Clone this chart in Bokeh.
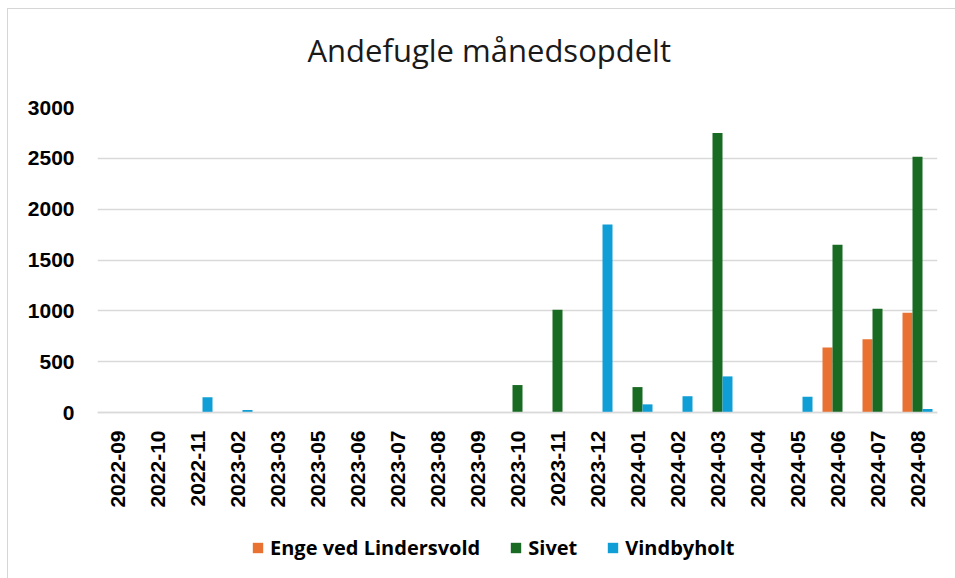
import math
from bokeh.plotting import figure
from bokeh.models import (FactorRange, Range1d, Legend, LegendItem, ColumnDataSource,
                          FixedTicker, Title)
from bokeh.transform import dodge
from bokeh.embed import file_html
from bokeh.resources import INLINE

months = ["2022-09", "2022-10", "2022-11", "2023-02", "2023-03", "2023-05", "2023-06",
          "2023-07", "2023-08", "2023-09", "2023-10", "2023-11", "2023-12", "2024-01",
          "2024-02", "2024-03", "2024-04", "2024-05", "2024-06", "2024-07", "2024-08"]
enge = [0, 0, 0, 0, 0, 0, 0, 0, 0, 0, 0, 0, 0, 0, 0, 0, 0, 0, 640, 720, 980]
sivet = [0, 0, 0, 0, 0, 5, 0, 0, 0, 0, 270, 1010, 0, 250, 0, 2750, 0, 0, 1650, 1020, 2515]
vind = [0, 0, 150, 25, 0, 0, 0, 0, 0, 0, 0, 5, 1850, 80, 160, 355, 0, 155, 5, 3, 35]
series_names = ["Enge ved Lindersvold", "Sivet", "Vindbyholt"]
y_ticks = [0, 500, 1000, 1500, 2000, 2500, 3000]

colors = ["#E97132", "#196B24", "#0F9ED5"]

src = ColumnDataSource(dict(month=months, enge=enge, sivet=sivet, vind=vind))

# frame extends below zero so that tick labels and legend sit inside it
plot_px = 305      # pixels for 0..3000
below_px = 163     # pixels below the zero line
y_start = -3000 * below_px / plot_px

p = figure(x_range=FactorRange(factors=months), y_range=Range1d(y_start, 3000),
           frame_width=840, frame_height=plot_px + below_px,
           output_backend="svg", toolbar_location=None,
           min_border_left=89, min_border_right=29, min_border_top=98, min_border_bottom=15)

p.styles = {"border": "1px solid #d6d6d6", "margin-left": "7px", "margin-top": "8px"}

bw = 0.25
r1 = p.vbar(x=dodge("month", -0.25, range=p.x_range), top="enge", width=bw, source=src,
            fill_color=colors[0], line_color=None)
r2 = p.vbar(x=dodge("month", 0.0, range=p.x_range), top="sivet", width=bw, source=src,
            fill_color=colors[1], line_color=None)
r3 = p.vbar(x=dodge("month", 0.25, range=p.x_range), top="vind", width=bw, source=src,
            fill_color=colors[2], line_color=None)

# spacer panel between frame and title
p.add_layout(Title(text=" ", text_font_size="2px", standoff=28), "above")

p.title.text = "Andefugle månedsopdelt"
p.title.align = "left"
p.title.text_font = "Open Sans"
p.title.text_font_style = "normal"
p.title.text_font_size = "31px"
p.title.text_color = "#1a1a1a"
p.title.standoff = 10
p.title.offset = 210

p.outline_line_color = None
p.xgrid.grid_line_color = None
p.ygrid.grid_line_color = "#d9d9d9"
p.ygrid.grid_line_width = 1.5
p.yaxis.ticker = FixedTicker(ticks=y_ticks)

for ax in (p.xaxis[0], p.yaxis[0]):
    ax.axis_line_color = None
    ax.major_tick_line_color = None
    ax.minor_tick_line_color = None
    ax.major_tick_out = 0
    ax.major_tick_in = 0
    ax.major_label_text_font = "Liberation Sans"
    ax.major_label_text_font_style = "bold"
    ax.major_label_text_font_size = "21px"
    ax.major_label_text_color = "#000000"

p.xaxis.fixed_location = 0
p.xaxis.axis_line_color = "#d9d9d9"
p.xaxis.axis_line_width = 1.5
p.yaxis.major_label_standoff = 23
p.xaxis.major_label_standoff = 18
p.xaxis.major_label_orientation = math.pi / 2

legend = Legend(items=[LegendItem(label=series_names[0], renderers=[r1]),
                       LegendItem(label=series_names[1], renderers=[r2]),
                       LegendItem(label=series_names[2], renderers=[r3])],
                orientation="horizontal", location=(154, 14))
legend.label_text_font = "Open Sans"
legend.label_text_font_style = "bold"
legend.label_text_font_size = "20px"
legend.label_text_color = "#000000"
legend.glyph_width = 13
legend.glyph_height = 13
legend.label_standoff = 6
legend.spacing = 29
legend.border_line_color = None
legend.background_fill_color = None
legend.margin = 0
legend.padding = 0
p.add_layout(legend, "center")

open("out.html", "w").write(file_html(p, INLINE))
